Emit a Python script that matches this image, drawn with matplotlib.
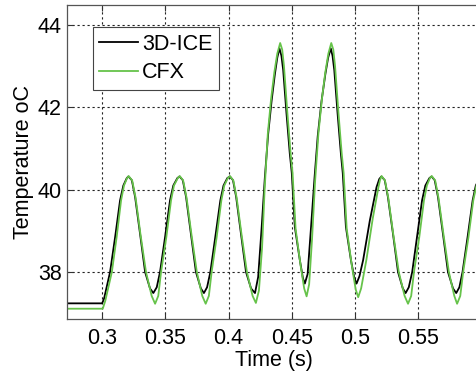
import matplotlib
matplotlib.use("Agg")
import matplotlib.pyplot as plt

# 3D-ICE simulation (black)
time_ice = [0.272, 0.3000, 0.3015, 0.3063, 0.3103, 0.3142, 0.3168, 0.3195, 0.3208, 0.3235,
            0.3261, 0.3300, 0.3340, 0.3379, 0.3405, 0.3432, 0.3458, 0.3498, 0.3537, 0.3563,
            0.3595, 0.3612, 0.3638, 0.3664, 0.3702, 0.3742, 0.3781, 0.3805, 0.3830, 0.3856,
            0.3895, 0.3935, 0.3960, 0.3990, 0.4010, 0.4035, 0.4060, 0.4098, 0.4138, 0.4178,
            0.4209, 0.4234, 0.4261, 0.4287, 0.4313, 0.4340, 0.4366, 0.4385, 0.4402, 0.4418,
            0.4432, 0.4458, 0.4484, 0.4500, 0.4524, 0.4563, 0.4588, 0.4603, 0.4625, 0.4650,
            0.4680, 0.4705, 0.4735, 0.4765, 0.4787, 0.4808, 0.4822, 0.4836, 0.4862, 0.4888,
            0.4903, 0.4928, 0.4967, 0.4995, 0.5012, 0.5035, 0.5064, 0.5117, 0.5170, 0.5192,
            0.5209, 0.5235, 0.5260, 0.5300, 0.5340, 0.5378, 0.5400, 0.5425, 0.5452, 0.5490,
            0.5530, 0.5556, 0.5588, 0.5605, 0.5630, 0.5656, 0.5695, 0.5735, 0.5775, 0.5800,
            0.5825, 0.5850, 0.5890, 0.5930, 0.5955, 0.5985, 0.6005]
temp_ice = [37.24, 37.24, 37.35, 38.00, 38.85, 39.74, 40.10, 40.28, 40.32, 40.23,
            39.82, 38.93, 38.00, 37.60, 37.49, 37.63, 38.00, 38.85, 39.74, 40.10,
            40.28, 40.32, 40.23, 39.82, 38.93, 38.00, 37.60, 37.49, 37.63, 38.00,
            38.85, 39.74, 40.10, 40.28, 40.32, 40.23, 39.82, 38.93, 38.00, 37.60,
            37.49, 37.88, 39.05, 40.30, 41.35, 42.15, 42.80, 43.20, 43.43, 43.25,
            42.90, 41.85, 40.88, 40.40, 39.09, 38.30, 37.85, 37.72, 37.95, 39.00,
            40.30, 41.30, 42.15, 42.80, 43.20, 43.43, 43.25, 42.90, 41.85, 40.88,
            40.40, 39.09, 38.30, 37.85, 37.72, 37.90, 38.29, 39.25, 40.06, 40.26,
            40.32, 40.23, 39.82, 38.93, 38.00, 37.60, 37.49, 37.63, 38.00, 38.85,
            39.74, 40.10, 40.28, 40.32, 40.23, 39.82, 38.93, 38.00, 37.60, 37.49,
            37.63, 38.00, 38.85, 39.74, 40.10, 40.28, 40.32]

# CFX simulation (green)
time_cfx = [0.272, 0.3005, 0.3025, 0.3077, 0.3115, 0.3150, 0.3173, 0.3197, 0.3210, 0.3238,
            0.3265, 0.3304, 0.3347, 0.3392, 0.3419, 0.3444, 0.3466, 0.3508, 0.3545, 0.3568,
            0.3598, 0.3614, 0.3641, 0.3668, 0.3707, 0.3749, 0.3792, 0.3819, 0.3844, 0.3866,
            0.3906, 0.3943, 0.3966, 0.3994, 0.4011, 0.4038, 0.4064, 0.4103, 0.4145, 0.4190,
            0.4216, 0.4240, 0.4265, 0.4285, 0.4310, 0.4336, 0.4362, 0.4385, 0.4408, 0.4424,
            0.4438, 0.4464, 0.4490, 0.4506, 0.4530, 0.4570, 0.4598, 0.4617, 0.4637, 0.4660,
            0.4684, 0.4710, 0.4738, 0.4765, 0.4789, 0.4812, 0.4828, 0.4842, 0.4868, 0.4894,
            0.4910, 0.4934, 0.4975, 0.5005, 0.5025, 0.5048, 0.5090, 0.5140, 0.5185, 0.5198,
            0.5210, 0.5237, 0.5263, 0.5303, 0.5346, 0.5392, 0.5419, 0.5444, 0.5466, 0.5508,
            0.5545, 0.5568, 0.5592, 0.5607, 0.5634, 0.5660, 0.5700, 0.5742, 0.5785, 0.5807,
            0.5832, 0.5855, 0.5897, 0.5935, 0.5960, 0.5990, 0.6008]
temp_cfx = [37.11, 37.11, 37.30, 38.00, 38.85, 39.74, 40.10, 40.28, 40.33, 40.22,
            39.80, 38.90, 38.00, 37.42, 37.23, 37.42, 38.00, 38.85, 39.74, 40.10,
            40.28, 40.33, 40.22, 39.80, 38.90, 38.00, 37.42, 37.23, 37.42, 38.00,
            38.85, 39.74, 40.10, 40.28, 40.33, 40.22, 39.80, 38.90, 38.00, 37.42,
            37.25, 37.55, 38.60, 40.00, 41.35, 42.20, 42.85, 43.30, 43.56, 43.40,
            43.00, 41.90, 40.90, 40.40, 39.05, 38.15, 37.60, 37.41, 37.70, 38.80,
            40.20, 41.35, 42.20, 42.85, 43.30, 43.56, 43.40, 43.00, 41.90, 40.90,
            40.40, 39.05, 38.15, 37.58, 37.39, 37.60, 38.30, 39.30, 40.06, 40.24,
            40.33, 40.22, 39.80, 38.90, 38.00, 37.42, 37.23, 37.42, 38.00, 38.85,
            39.74, 40.10, 40.28, 40.33, 40.22, 39.80, 38.90, 38.00, 37.42, 37.23,
            37.42, 38.00, 38.85, 39.74, 40.10, 40.28, 40.33]

x_ticks = [0.3, 0.35, 0.4, 0.45, 0.5, 0.55]
x_tick_labels = ["0.3", "0.35", "0.4", "0.45", "0.5", "0.55"]
y_ticks = [38, 40, 42, 44]

plt.rcParams["font.family"] = ["Liberation Sans", "DejaVu Sans"]
plt.rcParams["font.size"] = 15.5

fig = plt.figure(figsize=(4.76, 3.73), dpi=100)
ax = fig.add_axes([66.7 / 476, 54 / 373, 414.8 / 476, 314.3 / 373])

ax.plot(time_ice, temp_ice, color="black", linewidth=1.3, label="3D-ICE")
ax.plot(time_cfx, temp_cfx, color="#66c34a", linewidth=1.3, label="CFX")

ax.set_xlim(0.272, 0.6)
ax.set_ylim(36.86, 44.49)
ax.set_xticks(x_ticks)
ax.set_xticklabels(x_tick_labels)
ax.set_yticks(y_ticks)

ax.grid(True, color="#222222", linestyle=(0, (2, 2.5)), linewidth=0.8)
ax.tick_params(direction="in", length=4, width=0.8, top=True, right=True,
               color="#333333")
ax.tick_params(axis="x", pad=6.5)
ax.tick_params(axis="y", pad=3.5)
for s in ax.spines.values():
    s.set_color("#555555")
    s.set_linewidth(0.9)

ax.set_xlabel("Time (s)", labelpad=1)
ax.set_ylabel("Temperature oC", labelpad=3)

leg = ax.legend(loc="upper left", bbox_to_anchor=(0.0627, 0.928), borderaxespad=0,
                fancybox=False, edgecolor="#444444", framealpha=1,
                handlelength=1.8, handletextpad=0.2, labelspacing=0.35,
                borderpad=0.3)
leg.get_frame().set_linewidth(0.8)

fig.savefig("out.png", dpi=100)
